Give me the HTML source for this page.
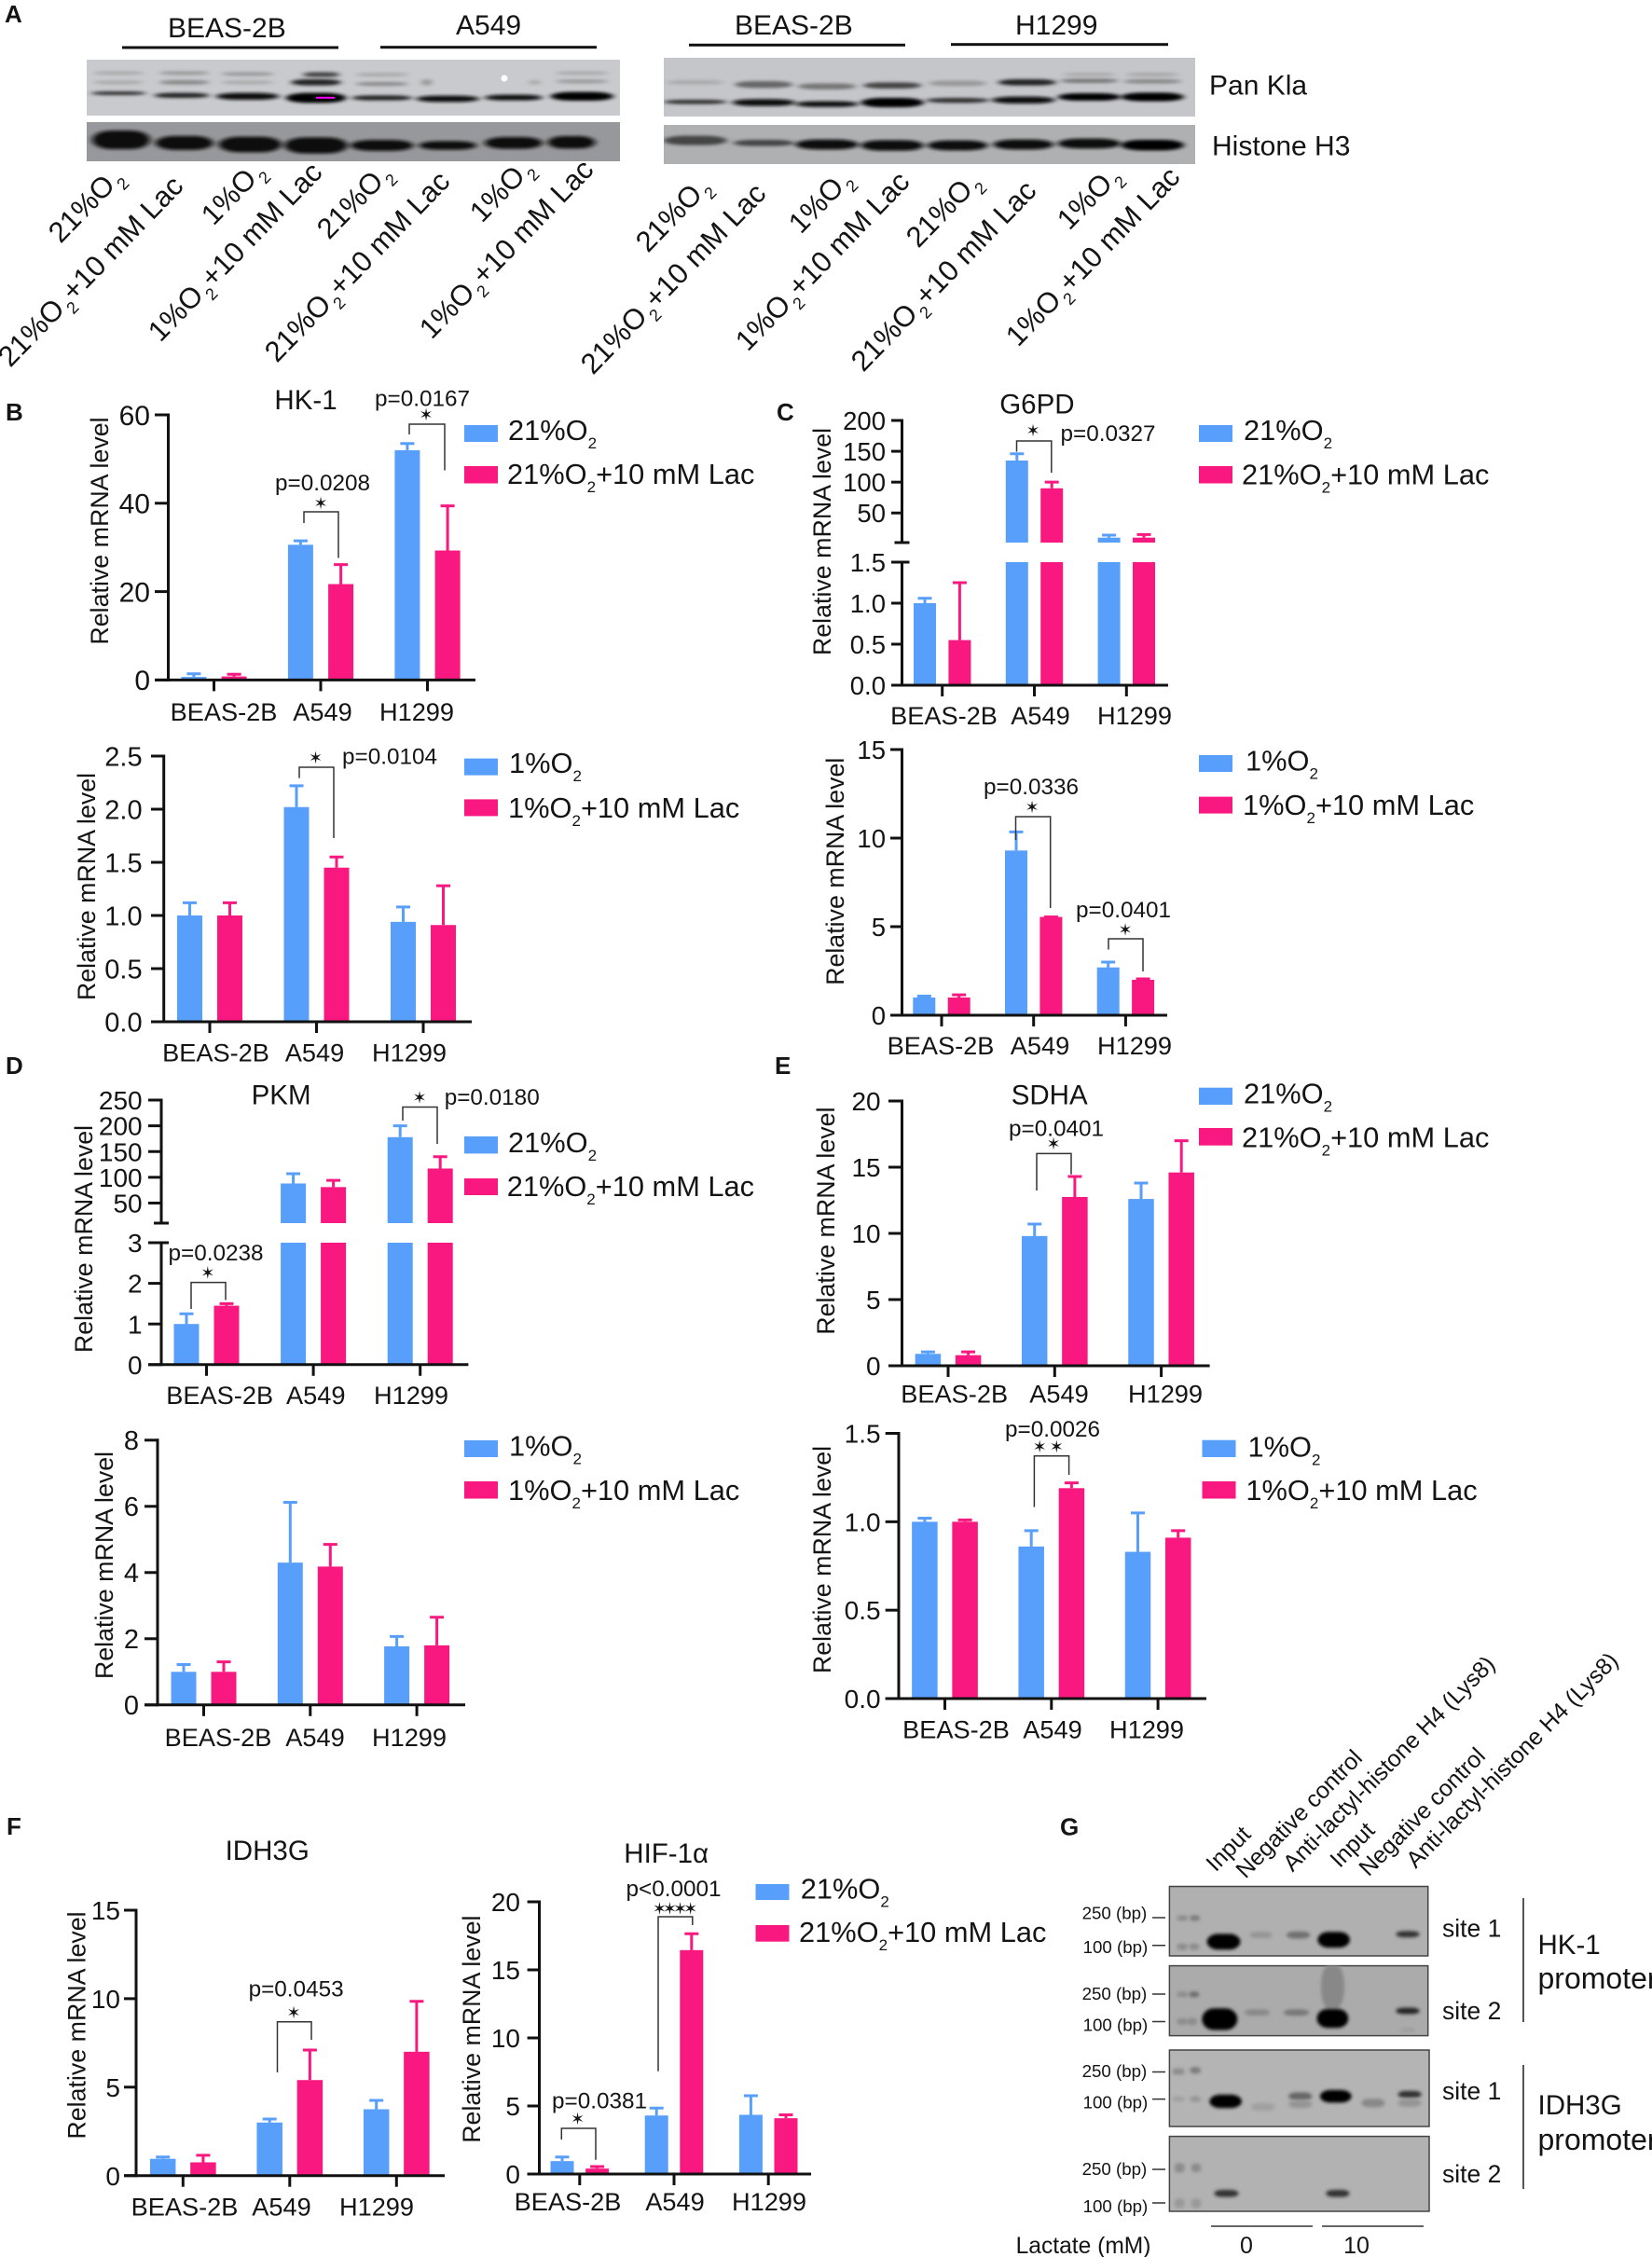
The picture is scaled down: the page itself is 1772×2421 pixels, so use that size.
<!DOCTYPE html>
<html lang="en">
<head>
<meta charset="utf-8">
<title>Lactate regulation of glycolytic genes</title>
<style>
html,body{margin:0;padding:0;background:#fff;}
svg{display:block;font-family:"Liberation Sans",Arial,sans-serif;fill:#141414;}
.letter{font-size:26px;font-weight:bold;}
.title{font-size:29.5px;text-anchor:middle;}
.leg{font-size:30.8px;}
.sub{font-size:17px;}
.subr{font-size:18px;}
.pv{font-size:24.3px;}
.yt{font-size:26.8px;text-anchor:middle;}
.rot{font-size:31px;}
.hd{font-size:30px;}
.gl{font-size:25px;}
.bp{font-size:18.7px;}
.site{font-size:26.5px;}
.prom{font-size:29.5px;}
.promw{font-size:32px;}
.star{font-family:"DejaVu Sans",sans-serif;font-size:18px;text-anchor:middle;}
.br{fill:none;stroke:#333;stroke-width:1.5;}
.sw1{fill:#589ffb;}
.sw2{fill:#f9187f;}
</style>
</head>
<body>
<svg id="figure" xmlns="http://www.w3.org/2000/svg" width="1772" height="2421" viewBox="0 0 1772 2421">
<defs>
<filter id="blurBlot" x="-40%" y="-150%" width="180%" height="400%"><feGaussianBlur stdDeviation="6 5"/></filter>
<filter id="blurGel" x="-40%" y="-150%" width="180%" height="400%"><feGaussianBlur stdDeviation="4.5"/></filter>
<clipPath id="clipA"><rect x="93" y="64" width="572" height="60"/></clipPath>
<clipPath id="clipB"><rect x="93" y="131" width="572" height="42"/></clipPath>
<clipPath id="clipC"><rect x="712" y="62" width="570" height="63"/></clipPath>
<clipPath id="clipD"><rect x="712" y="134" width="570" height="42"/></clipPath>
<clipPath id="clipG1"><rect x="1254" y="2023" width="278" height="75"/></clipPath>
<clipPath id="clipG2"><rect x="1254" y="2108" width="278" height="76"/></clipPath>
<clipPath id="clipG3"><rect x="1254" y="2199" width="279" height="82"/></clipPath>
<clipPath id="clipG4"><rect x="1254" y="2291" width="279" height="81"/></clipPath>
</defs>

<!-- Panel A -->
<g>
<text class="letter" x="5" y="24">A</text>
<text class="hd" x="180" y="40">BEAS-2B</text>
<rect x="131" y="49.5" width="232" height="3" fill="#111"/>
<text class="hd" x="489" y="37">A549</text>
<rect x="408" y="49.2" width="232" height="3" fill="#111"/>
<text class="hd" x="788" y="37">BEAS-2B</text>
<rect x="739" y="46.8" width="232" height="3" fill="#111"/>
<text class="hd" x="1089" y="37">H1299</text>
<rect x="1020" y="46.2" width="233" height="3" fill="#111"/>

<rect x="93" y="64" width="572" height="60" fill="#c8cacd"/>
<rect x="93" y="131" width="572" height="42" fill="#97989b"/>
<rect x="712" y="62" width="570" height="63" fill="#c4c6ca"/>
<rect x="712" y="134" width="570" height="42" fill="#aeb0b2"/>
<g id="bandsA" clip-path="url(#clipA)"></g>
<g id="bandsB" clip-path="url(#clipB)"></g>
<g id="bandsC" clip-path="url(#clipC)"></g>
<g id="bandsD" clip-path="url(#clipD)"></g>
<rect x="339" y="103.8" width="20" height="2" fill="#f0f"/>
<circle cx="541" cy="84" r="3.5" fill="#fff"/>
<text class="hd" x="1297" y="101.7">Pan Kla</text>
<text class="hd" x="1300" y="166.7">Histone H3</text>

<g>
<text class="rot" transform="translate(65,262) rotate(-46)">21%O<tspan class="subr" dx="2" dy="9">2</tspan></text>
<text class="rot" transform="translate(11,395) rotate(-46)">21%O<tspan class="subr" dx="2" dy="9">2</tspan><tspan dy="-9">+10 mM Lac</tspan></text>
<text class="rot" transform="translate(229,243) rotate(-46)">1%O<tspan class="subr" dx="2" dy="9">2</tspan></text>
<text class="rot" transform="translate(172,368) rotate(-46)">1%O<tspan class="subr" dx="2" dy="9">2</tspan><tspan dy="-9">+10 mM Lac</tspan></text>
<text class="rot" transform="translate(353,258) rotate(-46)">21%O<tspan class="subr" dx="2" dy="9">2</tspan></text>
<text class="rot" transform="translate(297,390) rotate(-46)">21%O<tspan class="subr" dx="2" dy="9">2</tspan><tspan dy="-9">+10 mM Lac</tspan></text>
<text class="rot" transform="translate(517,240) rotate(-46)">1%O<tspan class="subr" dx="2" dy="9">2</tspan></text>
<text class="rot" transform="translate(463,365) rotate(-46)">1%O<tspan class="subr" dx="2" dy="9">2</tspan><tspan dy="-9">+10 mM Lac</tspan></text>
</g>
<g>
<text class="rot" transform="translate(695,272) rotate(-46)">21%O<tspan class="subr" dx="2" dy="9">2</tspan></text>
<text class="rot" transform="translate(636,403) rotate(-46)">21%O<tspan class="subr" dx="2" dy="9">2</tspan><tspan dy="-9">+10 mM Lac</tspan></text>
<text class="rot" transform="translate(859,252) rotate(-46)">1%O<tspan class="subr" dx="2" dy="9">2</tspan></text>
<text class="rot" transform="translate(802,378) rotate(-46)">1%O<tspan class="subr" dx="2" dy="9">2</tspan><tspan dy="-9">+10 mM Lac</tspan></text>
<text class="rot" transform="translate(985,267) rotate(-46)">21%O<tspan class="subr" dx="2" dy="9">2</tspan></text>
<text class="rot" transform="translate(926,400) rotate(-46)">21%O<tspan class="subr" dx="2" dy="9">2</tspan><tspan dy="-9">+10 mM Lac</tspan></text>
<text class="rot" transform="translate(1147,248) rotate(-46)">1%O<tspan class="subr" dx="2" dy="9">2</tspan></text>
<text class="rot" transform="translate(1092,373) rotate(-46)">1%O<tspan class="subr" dx="2" dy="9">2</tspan><tspan dy="-9">+10 mM Lac</tspan></text>
</g>
</g>

<!-- Panel B -->
<g>
<text class="letter" x="6" y="451">B</text>
<text class="title" x="328" y="439">HK-1</text>
<text class="yt" transform="translate(116,569.5) rotate(-90)">Relative mRNA level</text>
<g id="chartHk1Normoxia"></g>
<rect class="sw1" x="498" y="456" width="36" height="18"/>
<rect class="sw2" x="498" y="500" width="36" height="18.5"/>
<text class="leg" x="545" y="472">21%O<tspan class="sub" dy="9">2</tspan></text>
<text class="leg" x="544" y="519">21%O<tspan class="sub" dy="9">2</tspan><tspan dy="-9">+10 mM Lac</tspan></text>
<text class="pv" x="402" y="435.6">p=0.0167</text>
<text class="star" x="457" y="451">✶</text>
<path class="br" d="M439 466V455H477V504.5"/>
<text class="pv" x="295" y="526">p=0.0208</text>
<text class="star" x="344" y="546">✶</text>
<path class="br" d="M326 561V549H363V598.5"/>

<text class="yt" transform="translate(102,951) rotate(-90)">Relative mRNA level</text>
<g id="chartHk1Hypoxia"></g>
<rect class="sw1" x="498" y="813.6" width="36" height="18"/>
<rect class="sw2" x="498" y="857.4" width="36" height="18"/>
<text class="leg" x="546" y="829">1%O<tspan class="sub" dy="9">2</tspan></text>
<text class="leg" x="545" y="877">1%O<tspan class="sub" dy="9">2</tspan><tspan dy="-9">+10 mM Lac</tspan></text>
<text class="pv" x="367" y="819.7">p=0.0104</text>
<text class="star" x="338.5" y="819">✶</text>
<path class="br" d="M321 834.6V823H358V899"/>
</g>

<!-- Panel C -->
<g>
<text class="letter" x="833" y="451">C</text>
<text class="title" x="1112.4" y="443.5">G6PD</text>
<text class="yt" transform="translate(891,581) rotate(-90)">Relative mRNA level</text>
<g id="chartG6pdNormoxia"></g>
<rect class="sw1" x="1286" y="456" width="36" height="18"/>
<rect class="sw2" x="1286" y="500" width="36" height="18.5"/>
<text class="leg" x="1334" y="472">21%O<tspan class="sub" dy="9">2</tspan></text>
<text class="leg" x="1332" y="519.4">21%O<tspan class="sub" dy="9">2</tspan><tspan dy="-9">+10 mM Lac</tspan></text>
<text class="pv" x="1137.5" y="473">p=0.0327</text>
<text class="star" x="1108" y="468">✶</text>
<path class="br" d="M1090.5 484.5V473H1127.8V507"/>

<text class="yt" transform="translate(905,934.8) rotate(-90)">Relative mRNA level</text>
<g id="chartG6pdHypoxia"></g>
<rect class="sw1" x="1286" y="810" width="36" height="18"/>
<rect class="sw2" x="1286" y="854.6" width="36" height="18"/>
<text class="leg" x="1336" y="826.7">1%O<tspan class="sub" dy="9">2</tspan></text>
<text class="leg" x="1333" y="874">1%O<tspan class="sub" dy="9">2</tspan><tspan dy="-9">+10 mM Lac</tspan></text>
<text class="pv" x="1055" y="852">p=0.0336</text>
<text class="star" x="1107" y="872">✶</text>
<path class="br" d="M1089.5 901V876H1126.7V974"/>
<text class="pv" x="1154" y="984">p=0.0401</text>
<text class="star" x="1207" y="1003.5">✶</text>
<path class="br" d="M1189 1018.5V1007H1226V1042"/>
</g>

<!-- Panel D -->
<g>
<text class="letter" x="6" y="1152">D</text>
<text class="title" x="301.6" y="1184.6">PKM</text>
<text class="yt" transform="translate(99,1329) rotate(-90)">Relative mRNA level</text>
<g id="chartPkmNormoxia"></g>
<rect class="sw1" x="498" y="1219" width="36" height="18.4"/>
<rect class="sw2" x="498" y="1264" width="36" height="18"/>
<text class="leg" x="545" y="1236">21%O<tspan class="sub" dy="9">2</tspan></text>
<text class="leg" x="543.7" y="1283">21%O<tspan class="sub" dy="9">2</tspan><tspan dy="-9">+10 mM Lac</tspan></text>
<text class="pv" x="476.7" y="1185">p=0.0180</text>
<text class="star" x="450" y="1183.3">✶</text>
<path class="br" d="M432 1202V1187.5H469V1227"/>
<text class="pv" x="180.5" y="1352">p=0.0238</text>
<text class="star" x="222.8" y="1371.4">✶</text>
<path class="br" d="M205 1404V1375.6H242V1394.5"/>

<text class="yt" transform="translate(121,1679) rotate(-90)">Relative mRNA level</text>
<g id="chartPkmHypoxia"></g>
<rect class="sw1" x="498" y="1545" width="36" height="18"/>
<rect class="sw2" x="498" y="1589" width="36" height="18.5"/>
<text class="leg" x="546" y="1561.7">1%O<tspan class="sub" dy="9">2</tspan></text>
<text class="leg" x="545" y="1609">1%O<tspan class="sub" dy="9">2</tspan><tspan dy="-9">+10 mM Lac</tspan></text>
</g>

<!-- Panel E -->
<g>
<text class="letter" x="831" y="1152">E</text>
<text class="title" x="1125.7" y="1184.6">SDHA</text>
<text class="yt" transform="translate(895,1309.6) rotate(-90)">Relative mRNA level</text>
<g id="chartSdhaNormoxia"></g>
<rect class="sw1" x="1286" y="1166.7" width="36" height="18.3"/>
<rect class="sw2" x="1286" y="1210" width="36" height="18.7"/>
<text class="leg" x="1334" y="1183.6">21%O<tspan class="sub" dy="9">2</tspan></text>
<text class="leg" x="1332" y="1230.6">21%O<tspan class="sub" dy="9">2</tspan><tspan dy="-9">+10 mM Lac</tspan></text>
<text class="pv" x="1082" y="1218.5">p=0.0401</text>
<text class="star" x="1130" y="1233">✶</text>
<path class="br" d="M1112 1277V1237.4H1149V1259.7"/>

<text class="yt" transform="translate(891,1673) rotate(-90)">Relative mRNA level</text>
<g id="chartSdhaHypoxia"></g>
<rect class="sw1" x="1289.5" y="1544.7" width="36" height="18.3"/>
<rect class="sw2" x="1289.5" y="1589" width="36" height="18.5"/>
<text class="leg" x="1338.5" y="1562.7">1%O<tspan class="sub" dy="9">2</tspan></text>
<text class="leg" x="1336.4" y="1609">1%O<tspan class="sub" dy="9">2</tspan><tspan dy="-9">+10 mM Lac</tspan></text>
<text class="pv" x="1078" y="1541">p=0.0026</text>
<text class="star" x="1125.7" y="1558" style="letter-spacing:3px">✶✶</text>
<path class="br" d="M1109.4 1616.5V1561.7H1146.6V1582"/>
</g>

<!-- Panel F -->
<g>
<text class="letter" x="7" y="1968">F</text>
<text class="title" x="286.7" y="1995">IDH3G</text>
<text class="yt" transform="translate(91.5,2172.5) rotate(-90)">Relative mRNA level</text>
<g id="chartIdh3g"></g>
<text class="pv" x="266.6" y="2141.7">p=0.0453</text>
<text class="star" x="315" y="2165">✶</text>
<path class="br" d="M297.5 2223V2168.7H334V2188"/>

<text class="title" x="714.7" y="1998">HIF-1α</text>
<text class="yt" transform="translate(515,2176.7) rotate(-90)">Relative mRNA level</text>
<g id="chartHif1a"></g>
<text class="pv" x="671.5" y="2034">p&lt;0.0001</text>
<text class="star" x="722" y="2053.7" style="letter-spacing:-4px">✶✶✶✶</text>
<path class="br" d="M706 2221.7V2056H742.8V2065"/>
<text class="pv" x="592" y="2261.7">p=0.0381</text>
<text class="star" x="619.6" y="2279">✶</text>
<path class="br" d="M602.3 2295V2283H639V2316.7"/>

<rect class="sw1" x="810.5" y="2021" width="36" height="17"/>
<rect class="sw2" x="810.5" y="2065" width="36" height="17.7"/>
<text class="leg" x="858.8" y="2036.7">21%O<tspan class="sub" dy="9">2</tspan></text>
<text class="leg" x="857" y="2083">21%O<tspan class="sub" dy="9">2</tspan><tspan dy="-9">+10 mM Lac</tspan></text>
</g>

<!-- Panel G -->
<g>
<text class="letter" x="1137" y="1968.7">G</text>
<text class="gl" transform="translate(1304,2008.7) rotate(-45.5)">Input</text>
<text class="gl" transform="translate(1336,2016) rotate(-45.5)">Negative control</text>
<text class="gl" transform="translate(1386.5,2008.7) rotate(-45.5)">Anti-lactyl-histone H4 (Lys8)</text>
<text class="gl" transform="translate(1437,2004.5) rotate(-45.5)">Input</text>
<text class="gl" transform="translate(1468,2013.8) rotate(-45.5)">Negative control</text>
<text class="gl" transform="translate(1518.6,2005) rotate(-45.5)">Anti-lactyl-histone H4 (Lys8)</text>

<rect x="1254.4" y="2023.5" width="277.3" height="74.5" fill="#b0b0b0" stroke="#444" stroke-width="1.5"/>
<rect x="1254.4" y="2108.6" width="277.3" height="75" fill="#ababab" stroke="#444" stroke-width="1.5"/>
<rect x="1254.4" y="2199" width="278.6" height="82" fill="#b4b4b4" stroke="#444" stroke-width="1.5"/>
<rect x="1254.4" y="2291.6" width="278.6" height="80.4" fill="#b2b2b2" stroke="#444" stroke-width="1.5"/>
<g id="bandsG1" clip-path="url(#clipG1)"></g>
<g id="bandsG2" clip-path="url(#clipG2)"></g>
<g id="bandsG3" clip-path="url(#clipG3)"></g>
<g id="bandsG4" clip-path="url(#clipG4)"></g>

<g stroke="#333" stroke-width="1.5">
<path d="M1236 2057H1250M1236 2086.7H1250M1236 2139H1250M1236 2168.5H1250M1236 2222.5H1250M1236 2251.6H1250M1236 2327H1250M1236 2363H1250"/>
</g>
<text class="bp" x="1160.6" y="2058.5">250 (bp)</text>
<text class="bp" x="1161.6" y="2095">100 (bp)</text>
<text class="bp" x="1160.6" y="2145">250 (bp)</text>
<text class="bp" x="1161.6" y="2178.6">100 (bp)</text>
<text class="bp" x="1160.6" y="2228">250 (bp)</text>
<text class="bp" x="1161.6" y="2261.7">100 (bp)</text>
<text class="bp" x="1160.6" y="2333">250 (bp)</text>
<text class="bp" x="1161.6" y="2373">100 (bp)</text>

<text class="site" x="1547" y="2077.5">site 1</text>
<text class="site" x="1547" y="2166">site 2</text>
<text class="site" x="1547" y="2252">site 1</text>
<text class="site" x="1547" y="2341">site 2</text>
<path d="M1634 2036V2169M1634 2215V2348" stroke="#555" stroke-width="2" fill="none"/>
<text class="prom" x="1649.5" y="2096">HK-1</text>
<text class="promw" x="1649.5" y="2133">promoter</text>
<text class="prom" x="1649.5" y="2268">IDH3G</text>
<text class="promw" x="1649.5" y="2306">promoter</text>
<path d="M1299 2388H1408M1418 2388H1527" stroke="#333" stroke-width="1.5" fill="none"/>
<text x="1234.5" y="2417" font-size="24.6" text-anchor="end">Lactate (mM)</text>
<text x="1337" y="2417" font-size="25" text-anchor="middle">0</text>
<text x="1455" y="2417" font-size="25" text-anchor="middle">10</text>
</g>
</svg>

<script>
/* ---------- chart data ---------- */
const categories = ['BEAS-2B', 'A549', 'H1299'];

const hk1NormoxiaCtrl = [0.7, 30.6, 52];
const hk1NormoxiaLac = [0.8, 21.7, 29.3];
const hk1NormoxiaCtrlErr = [1.4, 31.5, 53.5];
const hk1NormoxiaLacErr = [1.3, 26.1, 39.4];
const hk1NormoxiaTicks = ['0', '20', '40', '60'];

const hk1HypoxiaCtrl = [1.0, 2.02, 0.94];
const hk1HypoxiaLac = [1.0, 1.45, 0.91];
const hk1HypoxiaCtrlErr = [1.12, 2.22, 1.08];
const hk1HypoxiaLacErr = [1.12, 1.55, 1.28];
const hk1HypoxiaTicks = ['0.0', '0.5', '1.0', '1.5', '2.0', '2.5'];

const g6pdNormoxiaCtrl = [1.0, 135, 10];
const g6pdNormoxiaLac = [0.55, 90, 10];
const g6pdNormoxiaCtrlErr = [1.06, 146, 14];
const g6pdNormoxiaLacErr = [1.25, 100, 15];
const g6pdNormoxiaLowTicks = ['0.0', '0.5', '1.0', '1.5'];
const g6pdNormoxiaHighTicks = ['50', '100', '150', '200'];

const g6pdHypoxiaCtrl = [1.0, 9.3, 2.7];
const g6pdHypoxiaLac = [1.0, 5.55, 2.0];
const g6pdHypoxiaCtrlErr = [1.08, 10.35, 3.0];
const g6pdHypoxiaLacErr = [1.15, 5.55, 2.05];
const g6pdHypoxiaTicks = ['0', '5', '10', '15'];

const pkmNormoxiaCtrl = [1.0, 88, 178];
const pkmNormoxiaLac = [1.45, 81, 117];
const pkmNormoxiaCtrlErr = [1.25, 107, 200];
const pkmNormoxiaLacErr = [1.5, 94, 140];
const pkmNormoxiaLowTicks = ['0', '1', '2', '3'];
const pkmNormoxiaHighTicks = ['50', '100', '150', '200', '250'];

const pkmHypoxiaCtrl = [1.0, 4.3, 1.77];
const pkmHypoxiaLac = [1.0, 4.18, 1.8];
const pkmHypoxiaCtrlErr = [1.22, 6.12, 2.07];
const pkmHypoxiaLacErr = [1.3, 4.85, 2.65];
const pkmHypoxiaTicks = ['0', '2', '4', '6', '8'];

const sdhaNormoxiaCtrl = [0.9, 9.8, 12.6];
const sdhaNormoxiaLac = [0.8, 12.75, 14.6];
const sdhaNormoxiaCtrlErr = [1.05, 10.7, 13.8];
const sdhaNormoxiaLacErr = [1.05, 14.3, 17];
const sdhaNormoxiaTicks = ['0', '5', '10', '15', '20'];

const sdhaHypoxiaCtrl = [1.0, 0.86, 0.83];
const sdhaHypoxiaLac = [1.0, 1.19, 0.91];
const sdhaHypoxiaCtrlErr = [1.02, 0.95, 1.05];
const sdhaHypoxiaLacErr = [1.01, 1.22, 0.95];
const sdhaHypoxiaTicks = ['0.0', '0.5', '1.0', '1.5'];

const idh3gCtrl = [0.95, 3.0, 3.75];
const idh3gLac = [0.75, 5.4, 7.0];
const idh3gCtrlErr = [1.05, 3.2, 4.25];
const idh3gLacErr = [1.15, 7.1, 9.85];
const idh3gTicks = ['0', '5', '10', '15'];

const hif1aCtrl = [0.95, 4.3, 4.35];
const hif1aLac = [0.4, 16.45, 4.1];
const hif1aCtrlErr = [1.25, 4.85, 5.75];
const hif1aLacErr = [0.55, 17.65, 4.35];
const hif1aTicks = ['0', '5', '10', '15', '20'];

/* ---------- band intensities for the blots and gels (cx, cy, w, h, shade) ---------- */
const panKlaLeftBands = [
 [225,300,105,12,'#333'],[345,307,105,16,'#222'],[470,310,120,22,'#111'],[600,315,115,32,'#000'],
 [725,315,115,16,'#222'],[850,318,120,20,'#111'],[975,314,110,18,'#111'],[1105,310,120,28,'#000'],
 [225,265,95,12,'#aaa'],[225,235,95,12,'#aaa'],[350,265,95,14,'#888'],[350,235,95,12,'#999'],
 [470,265,100,12,'#aaa'],[470,238,100,12,'#999'],[600,265,95,20,'#222'],[610,240,70,16,'#444'],
 [725,270,100,12,'#888'],[725,240,100,12,'#aaa'],[810,265,20,20,'#999'],[1015,265,24,14,'#aaa'],
 [1105,262,100,12,'#999'],[1105,235,100,12,'#aaa']];
const histoneLeftBands = [
 [230,450,110,60,'#111'],[350,460,110,45,'#111'],[475,465,120,50,'#111'],[600,468,120,52,'#0a0a0a'],
 [725,468,120,35,'#111'],[850,468,110,28,'#111'],[975,460,110,38,'#111'],[1085,458,90,40,'#111']];
const panKlaRightBands = [
 [1320,328,120,14,'#333'],[1450,330,120,22,'#111'],[1570,335,120,18,'#111'],[1694,330,120,30,'#000'],
 [1818,323,120,16,'#333'],[1943,322,120,22,'#0a0a0a'],[2068,312,120,24,'#000'],[2188,312,120,28,'#000'],
 [1320,265,110,14,'#aaa'],[1450,272,110,22,'#666'],[1570,278,110,20,'#777'],[1694,275,110,20,'#444'],
 [1818,268,110,18,'#999'],[1950,265,110,20,'#222'],[2068,260,110,14,'#777'],[2068,240,100,12,'#aaa'],
 [2188,262,110,14,'#888'],[2188,240,100,14,'#aaa']];
const histoneRightBands = [
 [1320,452,120,30,'#444'],[1450,460,115,20,'#444'],[1570,465,120,32,'#111'],[1694,468,120,34,'#0a0a0a'],
 [1818,468,115,32,'#111'],[1943,465,115,32,'#111'],[2068,462,120,32,'#111'],[2188,467,120,34,'#000']];
const gelHk1Site1Bands = [
 [480,765,85,40,'#000'],[760,760,82,40,'#000'],[575,748,58,16,'#949494'],[670,748,60,18,'#707070'],[948,746,60,16,'#333'],
 [375,705,28,14,'#8c8c8c'],[407,705,26,14,'#7c7c7c'],[375,778,28,16,'#8c8c8c'],[405,778,26,16,'#8c8c8c']];
const gelHk1Site2Bands = [
 [757,880,60,110,'#888'],[470,962,90,55,'#000'],[757,960,80,48,'#000'],[565,945,65,16,'#888'],[665,945,65,16,'#777'],[948,941,60,16,'#222'],
 [375,899,28,14,'#8c8c8c'],[405,899,26,14,'#6c6c6c'],[375,968,28,16,'#8c8c8c'],[400,968,26,18,'#8c8c8c'],[948,990,40,14,'#a0a0a0']];
const gelIdh3gSite1Bands = [
 [485,1171,82,34,'#000'],[765,1158,80,32,'#000'],[580,1185,60,20,'#a0a0a0'],[675,1158,60,20,'#666'],[675,1178,60,20,'#949494'],
 [860,1175,60,22,'#888'],[953,1153,60,18,'#333'],[953,1175,60,20,'#949494'],
 [365,1095,32,16,'#8c8c8c'],[408,1092,28,16,'#7c7c7c'],[365,1165,32,14,'#a0a0a0'],[408,1165,28,14,'#949494']];
const gelIdh3gSite2Bands = [
 [487,1405,62,18,'#333'],[770,1405,60,18,'#333'],
 [368,1340,26,24,'#8c8c8c'],[410,1340,26,22,'#8c8c8c'],[368,1430,26,24,'#999'],[410,1430,26,24,'#999']];

/* ---------- layout of each chart (geometry only) ---------- */
const layoutHk1Normoxia = {axisX:180.5,axisStart:166,axisEnd:510,tickStart:229.5,step:114.5,barOff:21.6,barW:27,catX:[240,346,447],catY:773,labelRight:161,tickFont:30};
const layoutHk1Hypoxia = {axisX:175.7,axisStart:162,axisEnd:506,tickStart:225,step:114.5,barOff:21.5,barW:27,catX:[231.5,337.5,439],catY:1138.6,labelRight:152.6,tickFont:29};
const layoutG6pdNormoxia = {axisX:967.5,axisStart:956,axisEnd:1253,tickStart:1010.7,step:98.8,barOff:18.7,barW:24,catX:[1012.5,1116,1217],catY:777,labelRight:950,tickFont:27.5};
const layoutG6pdHypoxia = {axisX:967.5,axisStart:955,axisEnd:1252,tickStart:1010,step:98.7,barOff:18.7,barW:24,catX:[1009,1115.5,1217],catY:1131,labelRight:950,tickFont:27.5};
const layoutPkmNormoxia = {axisX:173,axisStart:159,axisEnd:502.4,tickStart:221.5,step:114.6,barOff:21.5,barW:27,catX:[235.7,338.8,441],catY:1506,labelRight:152.6,tickFont:28};
const layoutPkmHypoxia = {axisX:169,axisStart:155,axisEnd:499,tickStart:218.5,step:114.3,barOff:21.5,barW:27,catX:[234,338,439],catY:1873,labelRight:149,tickFont:29};
const layoutSdhaNormoxia = {axisX:967.5,axisStart:953,axisEnd:1297.6,tickStart:1017,step:114.3,barOff:21.6,barW:27.5,catX:[1023.7,1136,1250],catY:1504.5,labelRight:944.6,tickFont:28};
const layoutSdhaHypoxia = {axisX:964,axisStart:949.7,axisEnd:1294,tickStart:1013.5,step:114.3,barOff:21.6,barW:27.5,catX:[1025.5,1129,1230],catY:1864.7,labelRight:944.6,tickFont:28};
const layoutIdh3g = {axisX:146,axisStart:133,axisEnd:477,tickStart:196.3,step:114.5,barOff:21.6,barW:27.5,catX:[198,302,404],catY:2376.7,labelRight:129,tickFont:28};
const layoutHif1a = {axisX:578.5,axisStart:565.6,axisEnd:870,tickStart:621.8,step:101.2,barOff:18.8,barW:25,catX:[609,724,825],catY:2371,labelRight:558,tickFont:28};

const NS = 'http://www.w3.org/2000/svg';
const BLUE = '#589ffb';
const PINK = '#f9187f';
const INK = '#111';

function mk(tag, attrs, parent) {
  const el = document.createElementNS(NS, tag);
  for (const k in attrs) el.setAttribute(k, attrs[k]);
  parent.appendChild(el);
  return el;
}

function yScale(seg, v) {
  return seg.range[0] + (v - seg.domain[0]) / (seg.domain[1] - seg.domain[0]) * (seg.range[1] - seg.range[0]);
}
function xScale(lay, i) {
  return lay.tickStart + i * lay.step;
}
function segmentFor(segs, v) {
  for (const s of segs) if (v <= s.domain[1]) return s;
  return segs[segs.length - 1];
}

function drawChart(id, lay, segs, ctrl, lac, ctrlErr, lacErr) {
  const root = document.getElementById(id);
  const baseY = segs[0].range[0];

  // bars and whiskers
  [[ctrl, ctrlErr, -1, BLUE, 'control'], [lac, lacErr, 1, PINK, 'lactate']].forEach(function (series) {
    const vals = series[0], errs = series[1], side = series[2], color = series[3], label = series[4];
    vals.forEach(function (v, i) {
      const cx = xScale(lay, i) + side * lay.barOff;
      const eSeg = segmentFor(segs, v);
      const whisker = mk('path', {
        d: 'M' + cx + ' ' + yScale(eSeg, v) + 'V' + yScale(eSeg, errs[i]) + 'M' + (cx - 7.5) + ' ' + yScale(eSeg, errs[i]) + 'H' + (cx + 7.5),
        stroke: color, 'stroke-width': 3, fill: 'none'
      }, root);
      
      
      segs.forEach(function (s, si) {
        if (v <= s.domain[0]) return;
        const top = yScale(s, Math.min(v, s.domain[1]));
        const bar = mk('rect', {
          x: cx - lay.barW / 2, y: top, width: lay.barW, height: Math.max(0, s.range[0] - top), fill: color
        }, root);
        
        
      });
    });
  });

  // y axis with optional break
  segs.forEach(function (s, si) {
    const line = mk('line', {
      x1: lay.axisX, x2: lay.axisX, y1: s.range[0] + 1.5, y2: s.range[1] - 1.5,
      stroke: INK, 'stroke-width': 3
    }, root);
    
    
    s.ticks.forEach(function (t) {
      const y = yScale(s, parseFloat(t));
      const tick = mk('line', {x1: lay.axisStart, x2: lay.axisX, y1: y, y2: y, stroke: INK, 'stroke-width': 3}, root);
      
      
      const txt = mk('text', {x: lay.labelRight, y: y + lay.tickFont * 0.36, 'text-anchor': 'end', 'font-size': lay.tickFont}, root);
      txt.textContent = t;
      
      
    });
    if (si > 0) {
      const brk = mk('line', {x1: lay.axisX - 8, x2: lay.axisX + 8, y1: s.range[0], y2: s.range[0], stroke: INK, 'stroke-width': 3}, root);
      
      
      const lowerTop = segs[si - 1].range[1];
      const brk2 = mk('line', {x1: lay.axisX - 8, x2: lay.axisX + 8, y1: lowerTop, y2: lowerTop, stroke: INK, 'stroke-width': 3}, root);
      
      
    }
  });

  // x axis
  const xAxis = mk('line', {x1: lay.axisStart, x2: lay.axisEnd, y1: baseY, y2: baseY, stroke: INK, 'stroke-width': 3}, root);
  
  
  categories.forEach(function (c, i) {
    const x = xScale(lay, i);
    const tick = mk('line', {x1: x, x2: x, y1: baseY, y2: baseY + 12, stroke: INK, 'stroke-width': 3}, root);
    
    
    const txt = mk('text', {x: lay.catX[i], y: lay.catY, 'text-anchor': 'middle', 'font-size': 27.2}, root);
    txt.textContent = c;
    
    
  });
}

drawChart('chartHk1Normoxia', layoutHk1Normoxia, [{domain:[0,60],range:[729.4,445],ticks:hk1NormoxiaTicks}], hk1NormoxiaCtrl, hk1NormoxiaLac, hk1NormoxiaCtrlErr, hk1NormoxiaLacErr);
drawChart('chartHk1Hypoxia', layoutHk1Hypoxia, [{domain:[0,2.5],range:[1096,811],ticks:hk1HypoxiaTicks}], hk1HypoxiaCtrl, hk1HypoxiaLac, hk1HypoxiaCtrlErr, hk1HypoxiaLacErr);
drawChart('chartG6pdNormoxia', layoutG6pdNormoxia, [{domain:[0,1.5],range:[735,603],ticks:g6pdNormoxiaLowTicks},{domain:[2,200],range:[582,451],ticks:g6pdNormoxiaHighTicks}], g6pdNormoxiaCtrl, g6pdNormoxiaLac, g6pdNormoxiaCtrlErr, g6pdNormoxiaLacErr);
drawChart('chartG6pdHypoxia', layoutG6pdHypoxia, [{domain:[0,15],range:[1089,804],ticks:g6pdHypoxiaTicks}], g6pdHypoxiaCtrl, g6pdHypoxiaLac, g6pdHypoxiaCtrlErr, g6pdHypoxiaLacErr);
drawChart('chartPkmNormoxia', layoutPkmNormoxia, [{domain:[0,3],range:[1463.8,1333],ticks:pkmNormoxiaLowTicks},{domain:[11,250],range:[1312,1180],ticks:pkmNormoxiaHighTicks}], pkmNormoxiaCtrl, pkmNormoxiaLac, pkmNormoxiaCtrlErr, pkmNormoxiaLacErr);
drawChart('chartPkmHypoxia', layoutPkmHypoxia, [{domain:[0,8],range:[1828.8,1544.8],ticks:pkmHypoxiaTicks}], pkmHypoxiaCtrl, pkmHypoxiaLac, pkmHypoxiaCtrlErr, pkmHypoxiaLacErr);
drawChart('chartSdhaNormoxia', layoutSdhaNormoxia, [{domain:[0,20],range:[1465,1181],ticks:sdhaNormoxiaTicks}], sdhaNormoxiaCtrl, sdhaNormoxiaLac, sdhaNormoxiaCtrlErr, sdhaNormoxiaLacErr);
drawChart('chartSdhaHypoxia', layoutSdhaHypoxia, [{domain:[0,1.5],range:[1822,1537.5],ticks:sdhaHypoxiaTicks}], sdhaHypoxiaCtrl, sdhaHypoxiaLac, sdhaHypoxiaCtrlErr, sdhaHypoxiaLacErr);
drawChart('chartIdh3g', layoutIdh3g, [{domain:[0,15],range:[2333.7,2049],ticks:idh3gTicks}], idh3gCtrl, idh3gLac, idh3gCtrlErr, idh3gLacErr);
drawChart('chartHif1a', layoutHif1a, [{domain:[0,20],range:[2332,2040],ticks:hif1aTicks}], hif1aCtrl, hif1aLac, hif1aCtrlErr, hif1aLacErr);

function drawBands(id, bands, scaleX, scaleY, offX, offY, filter) {
  const root = document.getElementById(id);
  const g = mk('g', {transform: 'translate(' + offX + ',' + offY + ') scale(' + scaleX + ',' + scaleY + ')'}, root);
  
  
  bands.forEach(function (b) {
    const r = mk('rect', {
      x: b[0] - b[2] / 2, y: b[1] - b[3] / 2, width: b[2], height: b[3],
      rx: b[2] / 3, ry: b[3] / 2, fill: b[4], filter: 'url(#' + filter + ')'
    }, g);
    
    
  });
}
drawBands('bandsA', panKlaLeftBands, 1 / 1.77, 1 / 3, 0, 0, 'blurBlot');
drawBands('bandsB', histoneLeftBands, 1 / 1.77, 1 / 3, 0, 0, 'blurBlot');
drawBands('bandsC', panKlaRightBands, 1 / 1.77, 1 / 3, 0, 0, 'blurBlot');
drawBands('bandsD', histoneRightBands, 1 / 1.77, 1 / 3, 0, 0, 'blurBlot');
drawBands('bandsG1', gelHk1Site1Bands, 1 / 2.37, 1 / 2.37, 1110, 1760, 'blurGel');
drawBands('bandsG2', gelHk1Site2Bands, 1 / 2.37, 1 / 2.37, 1110, 1760, 'blurGel');
drawBands('bandsG3', gelIdh3gSite1Bands, 1 / 2.37, 1 / 2.37, 1110, 1760, 'blurGel');
drawBands('bandsG4', gelIdh3gSite2Bands, 1 / 2.37, 1 / 2.37, 1110, 1760, 'blurGel');
</script>
</body>
</html>
